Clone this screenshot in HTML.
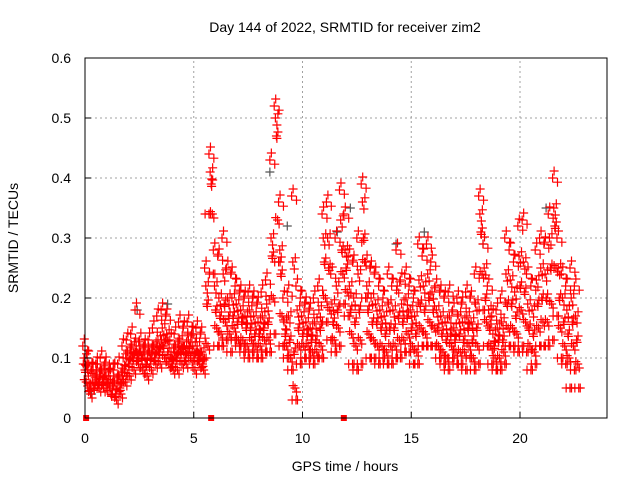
<!DOCTYPE html>
<html><head><meta charset="utf-8"><style>
body{margin:0;background:#fff;}
svg{display:block;font-family:"Liberation Sans",sans-serif;}
</style></head><body>
<svg id="chart" width="640" height="480">
<rect width="640" height="480" fill="#fff"/>
<text x="345" y="32" font-size="14" text-anchor="middle">Day 144 of 2022, SRMTID for receiver zim2</text>
<text x="345" y="471" font-size="14" text-anchor="middle">GPS time / hours</text>
<text transform="translate(18,238) rotate(-90)" font-size="14" text-anchor="middle">SRMTID / TECUs</text>
<g id="grid"></g>
<g id="marks"></g>
<rect x="85" y="58" width="522" height="360" fill="none" stroke="#000" stroke-width="1"/>
<g id="axes"></g>
</svg>
<script>
const xTicks=[0,5,10,15,20];
const yTicks=[0,0.1,0.2,0.3,0.4,0.5,0.6];
const yTickLabels=["0","0.1","0.2","0.3","0.4","0.5","0.6"];
const times=[0,0.2,0.4,0.6,0.8,1,1.2,1.4,1.6,1.8,2,2.2,2.4,2.6,2.8,3,3.2,3.4,3.6,3.8,4,4.2,4.4,4.6,4.8,5,5.2,5.4,5.6,5.8,6,6.2,6.4,6.6,6.8,7,7.2,7.4,7.6,7.8,8,8.2,8.4,8.6,8.8,9,9.2,9.4,9.6,9.8,10,10.2,10.4,10.6,10.8,11,11.2,11.4,11.6,11.8,12,12.2,12.4,12.6,12.8,13,13.2,13.4,13.6,13.8,14,14.2,14.4,14.6,14.8,15,15.2,15.4,15.6,15.8,16,16.2,16.4,16.6,16.8,17,17.2,17.4,17.6,17.8,18,18.2,18.4,18.6,18.8,19,19.2,19.4,19.6,19.8,20,20.2,20.4,20.6,20.8,21,21.2,21.4,21.6,21.8,22,22.2,22.4,22.6];
const v1=[.12,.10,.08,.09,.10,.09,.07,.08,.09,.12,.13,.14,.18,.13,.12,.13,.15,.17,.18,.17,.13,.14,.16,.15,.16,.14,.15,.14,.25,.44,.28,.27,.30,.25,.24,.22,.21,.20,.21,.20,.19,.21,.23,.43,.52,.36,.20,.21,.37,.22,.20,.19,.18,.20,.22,.34,.36,.24,.30,.38,.34,.27,.26,.30,.39,.26,.25,.24,.22,.20,.24,.22,.28,.23,.24,.22,.20,.29,.27,.29,.26,.22,.21,.20,.21,.18,.20,.19,.21,.20,.24,.37,.29,.22,.17,.18,.20,.30,.28,.26,.32,.33,.24,.22,.28,.30,.29,.34,.40,.30,.24,.22,.25,.22,.13];
const v2=[.10,.07,.06,.07,.08,.07,.05,.06,.07,.10,.11,.12,.12,.11,.10,.11,.12,.13,.15,.14,.11,.12,.13,.12,.13,.12,.12,.11,.22,.41,.22,.20,.24,.20,.20,.19,.18,.17,.18,.17,.16,.17,.19,.30,.50,.28,.16,.17,.26,.18,.17,.16,.15,.16,.18,.30,.30,.19,.22,.33,.28,.22,.20,.24,.36,.22,.20,.19,.18,.17,.19,.18,.22,.19,.20,.18,.17,.23,.22,.24,.21,.18,.17,.16,.17,.15,.17,.16,.17,.16,.19,.34,.25,.18,.14,.15,.16,.24,.23,.21,.27,.26,.19,.18,.23,.25,.24,.30,.35,.25,.20,.18,.20,.17,.10];
const v3=[.08,.05,.05,.06,.06,.05,.04,.04,.05,.08,.09,.10,.10,.10,.09,.10,.10,.11,.12,.11,.09,.10,.11,.10,.12,.10,.10,.09,.19,.39,.18,.17,.19,.17,.17,.16,.16,.15,.15,.14,.14,.15,.16,.27,.47,.24,.14,.13,.11,.15,.14,.14,.13,.13,.15,.26,.25,.16,.18,.28,.25,.18,.16,.18,.30,.18,.16,.16,.15,.14,.15,.15,.17,.16,.17,.15,.14,.19,.18,.20,.18,.15,.14,.13,.14,.13,.14,.13,.15,.13,.15,.31,.20,.15,.12,.13,.13,.19,.19,.17,.22,.21,.15,.14,.19,.20,.20,.25,.32,.20,.16,.14,.16,.13,.07];
const v4=[.06,.04,.07,.05,.05,.06,.06,.03,.04,.06,.07,.08,.09,.08,.07,.08,.09,.09,.10,.09,.08,.08,.09,.09,.10,.08,.09,.08,.12,.34,.15,.14,.16,.14,.15,.13,.13,.12,.13,.12,.12,.13,.13,.20,.33,.17,.12,.10,.05,.12,.12,.12,.11,.11,.12,.20,.18,.13,.15,.24,.21,.14,.12,.13,.26,.14,.13,.12,.12,.11,.12,.12,.13,.13,.14,.12,.11,.15,.14,.16,.15,.12,.11,.10,.12,.11,.11,.11,.12,.10,.12,.24,.16,.12,.10,.10,.11,.15,.15,.14,.18,.16,.12,.11,.15,.16,.16,.19,.25,.15,.12,.10,.12,.09,.06];
const v5=[.09,.08,.09,.08,.07,.08,.09,.07,.06,.07,.10,.11,.11,.12,.11,.12,.11,.12,.13,.10,.10,.11,.12,.11,.14,.11,.11,.10,.34,.24,.12,.12,.13,.11,.13,.12,.11,.10,.11,.10,.10,.11,.11,.14,.26,.12,.10,.08,.03,.09,.10,.10,.09,.10,.10,.16,.13,.11,.12,.19,.17,.09,.08,.09,.20,.10,.10,.09,.10,.09,.09,.10,.10,.11,.11,.09,.09,.12,.12,.12,.12,.10,.09,.08,.10,.09,.09,.08,.10,.08,.09,.18,.12,.09,.08,.08,.09,.12,.12,.11,.12,.11,.08,.09,.12,.12,.12,.13,.17,.10,.09,.05,.08,.05,.05];
const greyTimes=[0.3,2.4,3.8,8.5,9.3,11.6,12.2,14.3,15.6,18.3,21.2,22.3];
const greyValues=[0.04,0.18,0.19,0.41,0.32,0.31,0.35,0.29,0.31,0.29,0.35,0.05];
const flagTimes=[0.05,5.8,11.9];

const NS="http://www.w3.org/2000/svg";
const X0=85,X1=607,Y0=418,Y1=58,XMAX=24,YMAX=0.6;
function xs(t){return X0+(X1-X0)*t/XMAX;}
function ys(v){return Y0-(Y0-Y1)*v/YMAX;}
const grid=document.getElementById('grid'),axes=document.getElementById('axes'),marks=document.getElementById('marks');
function mk(tag,attrs,parent){const e=document.createElementNS(NS,tag);for(const k in attrs)e.setAttribute(k,attrs[k]);parent.appendChild(e);return e;}
xTicks.forEach(t=>{
  const x=xs(t);
  if(t>0){const g=mk('line',{x1:x,x2:x,y1:Y0,y2:Y1,stroke:'#a0a0a0','stroke-dasharray':'2,3'},grid);
  
  }
  const tk=mk('line',{x1:x,x2:x,y1:Y0,y2:Y0-6,stroke:'#000'},axes);
  
  
  const lb=mk('text',{x:x,y:Y0+25,'font-size':14,'text-anchor':'middle'},axes);lb.textContent=t;
  
  
});
yTicks.forEach((v,i)=>{
  const y=ys(v);
  if(v>0&&v<0.6){const g=mk('line',{x1:X0,x2:X1,y1:y,y2:y,stroke:'#a0a0a0','stroke-dasharray':'2,3'},grid);
  
  }
  const tk=mk('line',{x1:X0,x2:X0+6,y1:y,y2:y,stroke:'#000'},axes);
  
  
  const lb=mk('text',{x:X0-14,y:y+5,'font-size':14,'text-anchor':'end'},axes);lb.textContent=yTickLabels[i];
  
  
});
function plus(x,y,col,name){
  const p=mk('path',{d:`M${x-4.5},${y}h9M${x},${y-4.5}v9`,stroke:col,'stroke-width':1.2,fill:'none'},marks);
  
  
}
greyTimes.forEach((t,i)=>plus(xs(t),ys(greyValues[i]),'#555','grey-point'));
const series=[v1,v2,v3,v4,v5];
const offs=[-2.2,-1,0,1.2,2.2];
const dys=[-7,7,-4,4,0];
times.forEach((t,i)=>{
  series.forEach((s,k)=>{
    plus(xs(t)+offs[k],ys(s[i]),'#f00','red-point');
    plus(xs(t)+offs[k]+1.5,ys(s[i])+dys[k],'#f00','red-point');
    plus(xs(t)-offs[k]+0.5,ys(s[i])-dys[k]*0.6,'#f00','red-point');
  });
});
flagTimes.forEach(t=>{
  const r=mk('rect',{x:xs(t)-3,y:Y0-3,width:6,height:6,fill:'#f00'},marks);
  
  
});
</script>
</body></html>
